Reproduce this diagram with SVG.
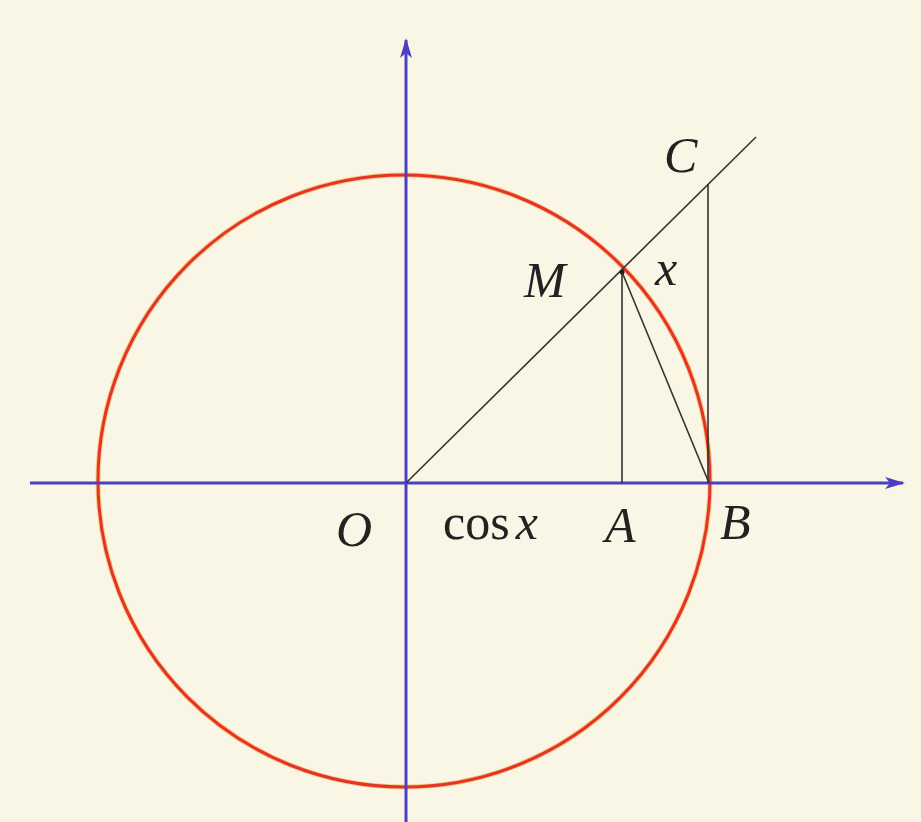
<svg xmlns="http://www.w3.org/2000/svg" width="921" height="822" viewBox="0 0 921 822">
<defs>
<marker id="arr" viewBox="0 0 20 12" refX="18" refY="6" markerWidth="20" markerHeight="12" markerUnits="userSpaceOnUse" orient="auto">
<path d="M0,0 L20,6 L0,12 L5,6 Z" fill="#4b3fc4"/>
</marker>
<style>
.ax{stroke:#4b3fc4;stroke-width:3;fill:none}
.ln{stroke:#333;stroke-width:1.6;fill:none}
.lb{font-family:"Liberation Serif",serif;font-size:50px;fill:#222}
.it{font-style:italic}
</style>
</defs>
<rect width="921" height="822" fill="#f9f6e6"/>
<g id="circle">
<circle cx="404" cy="481" r="306" fill="none" stroke="#f0a020" stroke-width="5" opacity="0.5"/>
<circle cx="404" cy="481" r="306" fill="none" stroke="#e5332a" stroke-width="3"/>
</g>
<g id="connectors">
<line class="ax" x1="30" y1="483" x2="903" y2="483" marker-end="url(#arr)"/>
<line class="ax" x1="406" y1="822" x2="406" y2="40" marker-end="url(#arr)"/>
<line class="ln" x1="406" y1="483" x2="756" y2="137"/>
<line class="ln" x1="622" y1="272" x2="622" y2="483"/>
<line class="ln" x1="708" y1="184" x2="708" y2="483"/>
<line class="ln" x1="622" y1="272" x2="709" y2="483"/>
<circle cx="622" cy="272" r="2.5" fill="#222"/>
</g>
<g id="labels">
<text class="lb it" x="664" y="172">C</text>
<text class="lb it" x="524" y="297">M</text>
<text class="lb it" x="655" y="285">x</text>
<text class="lb it" x="336" y="546">O</text>
<text class="lb" x="443" y="539">cos<tspan class="it" dx="6">x</tspan></text>
<text class="lb it" x="605" y="542">A</text>
<text class="lb it" x="720" y="539">B</text>
</g>
</svg>
